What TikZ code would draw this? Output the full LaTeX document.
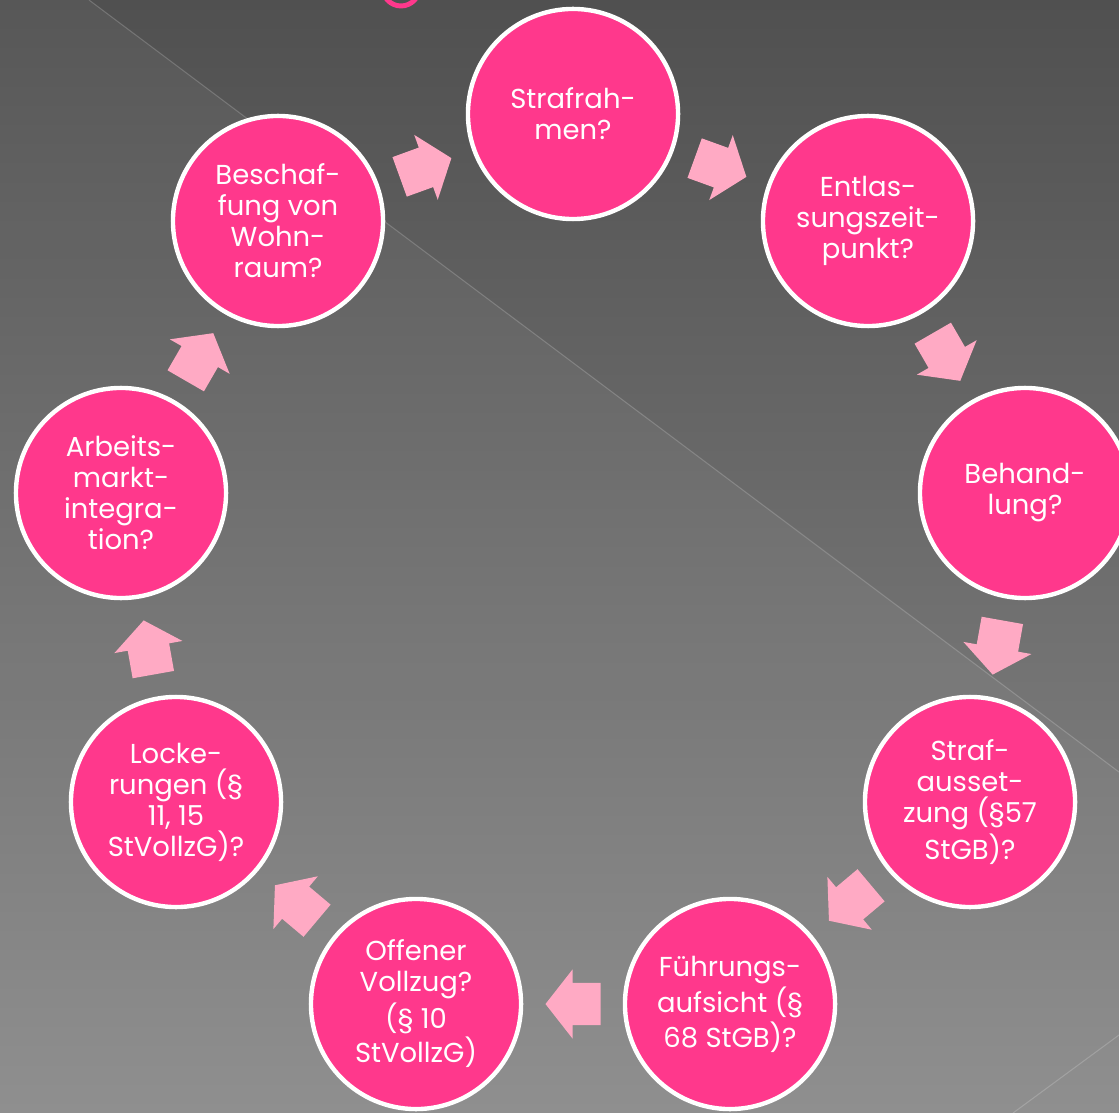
\documentclass[tikz,border=0pt]{standalone}
\usepackage{fontspec}
\setmainfont{Poppins}

\definecolor{bgtop}{RGB}{80,80,80}
\definecolor{bgbottom}{RGB}{138,138,138}
\definecolor{stagepink}{RGB}{255,56,140}
\definecolor{flowpink}{RGB}{255,170,196}

\tikzset{
  flowarrow/.pic={
    \fill[flowpink] (-0.275cm,-0.21cm) -- (0.005cm,-0.21cm) -- (0.005cm,-0.345cm) -- (0.275cm,0cm)
      -- (0.005cm,0.345cm) -- (0.005cm,0.21cm) -- (-0.275cm,0.21cm) -- cycle;
  }
}

\begin{document}
\begin{tikzpicture}[
  x=0.01cm, y=-0.01cm,
    every node/.style={font=\fontsize{7.8pt}{8.8pt}\selectfont},
    stage/.style={circle, minimum size=2.1cm, inner sep=0pt, align=center, text=white, draw=white, fill=stagepink, line width=1.25pt},
    flow/.style={midway, sloped, allow upside down},
    edgeline/.style={white, opacity=0.18, line width=0.3pt}
]

% Background
\useasboundingbox (0,0) rectangle (1119,1113);
\clip (0,0) rectangle (1119,1113);
\shade[top color=bgtop, bottom color=bgbottom] (0,0) rectangle (1119,1113);
\fill[white, opacity=0.045] (89,0) -- (1119,772) -- (1119,1113) -- (0,1113) -- (0,0) -- cycle;
\draw[edgeline] (89,0) -- (1119,772);
\draw[edgeline] (1013,1113) -- (1119,1035);
\draw[stagepink, line width=1.4pt] (401,-14) ellipse [x radius=19, y radius=20];

% Stages of the cycle
\node (strafrahmen) [stage] at (573,114) {Strafrah-\\men?};
\node (entlassung) [stage] at (868,221) {Entlas-\\sungszeit-\\punkt?};
\node (behandlung) [stage] at (1025,493) {Behand-\\lung?};
\node (aussetzung) [stage] at (970,802) {Straf-\\ausset-\\zung (§57\\StGB)?};
\node (fuehrung) [stage] at (730,1004) {Führungs-\\aufsicht (§\\68 StGB)?};
\node (vollzug) [stage] at (416,1004) {Offener\\Vollzug?\\(§ 10\\StVollzG)};
\node (lockerung) [stage] at (176,802) {Locke-\\rungen (§\\11, 15\\StVollzG)?};
\node (arbeit) [stage] at (121,493) {Arbeits-\\markt-\\integra-\\tion?};
\node (wohnraum) [stage] at (278,221) {Beschaf-\\fung von\\Wohn-\\raum?};

% Arrows
\path (strafrahmen) -- (entlassung) pic[flow] {flowarrow};
\path (entlassung) -- (behandlung) pic[flow] {flowarrow};
\path (behandlung) -- (aussetzung) pic[flow] {flowarrow};
\path (aussetzung) -- (fuehrung) pic[flow] {flowarrow};
\path (fuehrung) -- (vollzug) pic[flow] {flowarrow};
\path (vollzug) -- (lockerung) pic[flow] {flowarrow};
\path (lockerung) -- (arbeit) pic[flow] {flowarrow};
\path (arbeit) -- (wohnraum) pic[flow] {flowarrow};
\path (wohnraum) -- (strafrahmen) pic[flow] {flowarrow};

\end{tikzpicture}
\end{document}
